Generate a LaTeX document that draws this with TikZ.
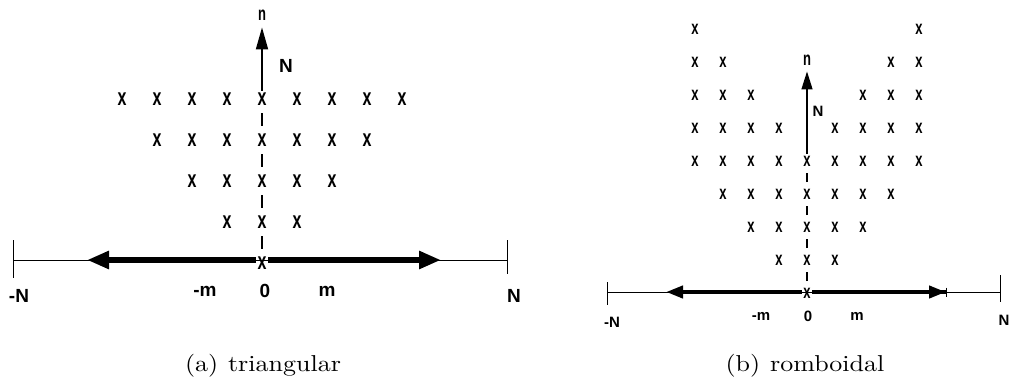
\documentclass[tikz,border=0pt]{standalone}
\usepackage{fontspec}
\setsansfont{Liberation Sans}
\usepackage{tikz}
\usetikzlibrary{arrows.meta}

\newcommand{\tallglyph}[1]{\scalebox{1}[1.5]{#1}}
\newcommand{\capline}[1]{\scalebox{2.6}[2.3]{#1}}

\begin{document}
\begin{tikzpicture}[x=1pt, y=-1pt,
  crossa/.style={font=\sffamily\bfseries\fontsize{16}{16}\selectfont, inner sep=1.5pt},
  crossb/.style={font=\sffamily\bfseries\fontsize{13}{13}\selectfont, inner sep=1.5pt},
  lbla/.style={font=\sffamily\bfseries\fontsize{19}{19}\selectfont, inner sep=0pt},
  lblb/.style={font=\sffamily\bfseries\fontsize{15}{15}\selectfont, inner sep=0pt},
  nlbl/.style={font=\sffamily\bfseries\fontsize{13}{13}\selectfont, inner sep=0pt},
  axis/.style={line width=0.7pt},
  bigarr/.style={-{Triangle[length=22pt, width=17pt]}, line width=6pt},
  midarr/.style={-{Triangle[length=17pt, width=12pt]}, line width=4pt},
  midbar/.style={-{Triangle[length=17pt, width=12pt]Bar[width=9pt, line width=1pt]}, line width=4pt},
  uparr/.style={-{Triangle[length=22pt, width=12pt]}, line width=1.8pt},
  uparrb/.style={-{Triangle[length=18pt, width=11pt]}, line width=1.3pt},
  dsh/.style={line width=1.4pt, shorten <=6pt, shorten >=6pt},
  subcap/.style={inner sep=0pt}]
\useasboundingbox (0,0) rectangle (1011,386);

% (a) triangular
\foreach \k in {0,...,4}
  \foreach \i in {-\k,...,\k} {
    \pgfmathtruncatemacro\c{\i+4}
    \node[crossa] (a-\k-\c) at ({262+35*\i}, {263-41*\k}) {\tallglyph{x}};
  }
\foreach \k [evaluate=\k as \kk using int(\k+1)] in {0,...,3}
  \draw[dsh] (a-\k-4) -- (a-\kk-4);
\node[nlbl] (a-n) at (262,15) {\tallglyph{n}};
\draw[uparr, shorten >=7pt] (a-4-4) -- (a-n);
\node[lbla] (a-N) at (286,66) {N};

\coordinate (a-L) at (13,260);
\coordinate (a-R) at (507,260);
\coordinate (a-Lt) at (13,240);
\coordinate (a-Lb) at (13,278);
\coordinate (a-Rt) at (507,240);
\coordinate (a-Rb) at (507,274);
\coordinate (a-Lh) at (87,260);
\coordinate (a-Rh) at (441,260);
\draw[axis] (a-L) -- (a-R);
\draw[axis] (a-Lt) -- (a-Lb);
\draw[axis] (a-Rt) -- (a-Rb);
\draw[bigarr] (a-0-4.west |- a-L) -- (a-Lh);
\draw[bigarr] (a-0-4.east |- a-R) -- (a-Rh);

\node[lbla] (a-mN) at (19,296) {-N};
\node[lbla] (a-mm) at (205,291) {-m};
\node[lbla] (a-0) at (265,291) {0};
\node[lbla] (a-m) at (327,291) {m};
\node[lbla] (a-pN) at (514,296) {N};
\node[subcap] (a-cap) at (263,366) {\capline{(a)\hspace{0.38em}triangular}};

% (b) romboidal
\foreach \k in {0,...,8}
  \foreach \i in {-4,...,4} {
    \pgfmathtruncatemacro\c{\i+4}
    \pgfmathtruncatemacro\vis{(abs(\i)<=\k) && (abs(\i)>=\k-4)}
    \ifnum\vis=1
      \node[crossb] (b-\k-\c) at ({807+28*\i}, {293-33*\k}) {\tallglyph{x}};
    \fi
  }
\foreach \k [evaluate=\k as \kk using int(\k+1)] in {0,...,3}
  \draw[dsh, line width=1.1pt, shorten <=5pt, shorten >=5pt] (b-\k-4) -- (b-\kk-4);
\node[nlbl] (b-n) at (807,60) {\tallglyph{n}};
\draw[uparrb, shorten >=6pt] (b-4-4) -- (b-n);
\node[lblb] (b-N) at (818,111) {N};

\coordinate (b-L) at (607,292);
\coordinate (b-R) at (1000,292);
\coordinate (b-Lt) at (607,282);
\coordinate (b-Lb) at (607,305);
\coordinate (b-Rt) at (1000,275);
\coordinate (b-Rb) at (1000,302);
\coordinate (b-Lh) at (666,292);
\coordinate (b-Rh) at (947,292);
\draw[axis] (b-L) -- (b-R);
\draw[axis] (b-Lt) -- (b-Lb);
\draw[axis] (b-Rt) -- (b-Rb);
\draw[midarr] (b-0-4.west |- b-L) -- (b-Lh);
\draw[midbar] (b-0-4.east |- b-R) -- (b-Rh);

\node[lblb] (b-mN) at (612,322) {-N};
\node[lblb] (b-mm) at (761,316) {-m};
\node[lblb] (b-0) at (808,316) {0};
\node[lblb] (b-m) at (857,316) {m};
\node[lblb] (b-pN) at (1004,320) {N};
\node[subcap] (b-cap) at (805,366) {\capline{(b)\hspace{0.38em}romboidal}};
\end{tikzpicture}
\end{document}
